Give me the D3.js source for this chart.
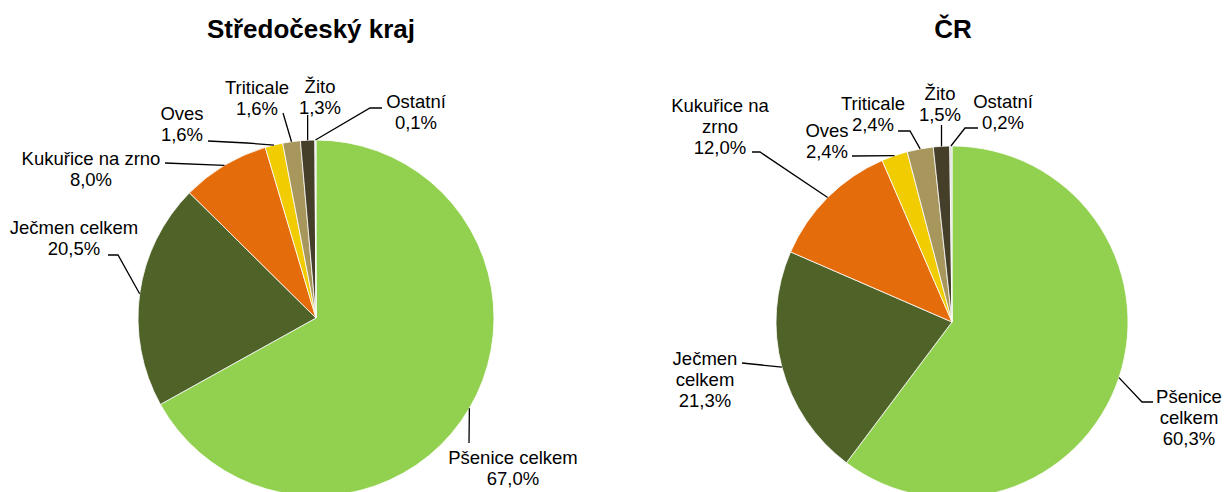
<!DOCTYPE html>
<html>
<head>
<meta charset="utf-8">
<script src="https://cdn.jsdelivr.net/npm/d3@7"></script>
<style>
  body { margin: 0; background: #fff; }
  text { font-family: "Liberation Sans", Arial, sans-serif; fill: #000; }
</style>
</head>
<body>
<div id="chart"></div>
<script>
var width = 1227, height = 492

// data
var crops = ['Pšenice celkem', 'Ječmen celkem', 'Kukuřice na zrno', 'Oves', 'Triticale', 'Žito', 'Ostatní']
var stredocesky = [67.0, 20.5, 8.0, 1.6, 1.6, 1.3, 0.1]
var cr = [60.3, 21.3, 12.0, 2.4, 2.4, 1.5, 0.2]
var titles = ['Středočeský kraj', 'ČR']

var colors = ['#92D050', '#4F6228', '#E46C0A', '#F0CC00', '#A8975C', '#453F29', '#D9D9D9']

// label layout (text centre x, first baseline, lines, leader bends)
var leftLabels = [
  { x: 513, y: 464, lines: ['Pšenice celkem'], bends: [[469, 443]] },
  { x: 74, y: 234, lines: ['Ječmen celkem'], bends: [[118, 255], [108, 255]] },
  { x: 91, y: 165, lines: ['Kukuřice na zrno'], bends: [[165, 163]] },
  { x: 182, y: 120, lines: ['Oves'], bends: [[247, 143], [208, 141]] },
  { x: 257, y: 94, lines: ['Triticale'], bends: [[283, 113]] },
  { x: 320, y: 93, lines: ['Žito'], bends: [['v', 115]] },
  { x: 416, y: 108, lines: ['Ostatní'], bends: [[370, 108], [382, 108]] }
]
var rightLabels = [
  { x: 1189, y: 403, lines: ['Pšenice', 'celkem'], bends: [[1142, 402], [1153, 402]] },
  { x: 705, y: 365, lines: ['Ječmen', 'celkem'], bends: [[742, 363]] },
  { x: 720, y: 112, lines: ['Kukuřice na', 'zrno'], bends: [[760, 152], [752, 152]] },
  { x: 827, y: 137, lines: ['Oves'], bends: [[852, 156]] },
  { x: 873, y: 110, lines: ['Triticale'], bends: [[910, 131], [898, 131]] },
  { x: 940, y: 100, lines: ['Žito'], bends: [['v', 125]] },
  { x: 1003, y: 108, lines: ['Ostatní'], bends: [[965, 128], [978, 128]] }
]

var svg = d3.select('#chart').append('svg')
  .attr('width', width)
  .attr('height', height)

var fmt = v => d3.format('.1f')(v).replace('.', ',') + '%'

function drawPie(values, title, cx, cy, r, labels, titleX) {
  var g = svg.append('g')

  g.append('text')
    .attr('x', titleX)
    .attr('y', 38)
    .attr('text-anchor', 'middle')
    .style('font-size', '26px')
    .style('font-weight', 'bold')
    .text(title)

  var pie = d3.pie().sort(null).value(d => d.value)
  var data = pie(crops.map((c, i) => ({ name: c, value: values[i], color: colors[i] })))

  var arc = d3.arc().innerRadius(0).outerRadius(r)
  var edge = d3.arc().innerRadius(r).outerRadius(r)

  var slices = g.append('g').attr('transform', `translate(${cx},${cy})`)
  slices.selectAll('path')
    .data(data)
    .enter().append('path')
    .attr('d', arc)
    .attr('fill', d => d.data.color)
    .attr('stroke', '#fff')
    .attr('stroke-width', 0.8)

  var line = d3.line()
  data.forEach((d, i) => {
    var lab = labels[i]
    var c = edge.centroid(d)
    var p0 = [cx + c[0], cy + c[1]]
    var pts = [p0].concat(lab.bends.map(b => b[0] === 'v' ? [p0[0], b[1]] : b))
    g.append('path')
      .attr('d', line(pts))
      .attr('fill', 'none')
      .attr('stroke', '#000')
      .attr('stroke-width', 1.3)

    var t = g.append('text')
      .attr('text-anchor', 'middle')
      .style('font-size', '18.5px')
    lab.lines.concat([fmt(d.data.value)]).forEach((s, k) => {
      t.append('tspan')
        .attr('x', lab.x)
        .attr('y', lab.y + k * 21)
        .text(s)
    })
  })
}

drawPie(stredocesky, titles[0], 316, 318, 178, leftLabels, 311)
drawPie(cr, titles[1], 952, 322, 176, rightLabels, 953)
</script>
</body>
</html>
